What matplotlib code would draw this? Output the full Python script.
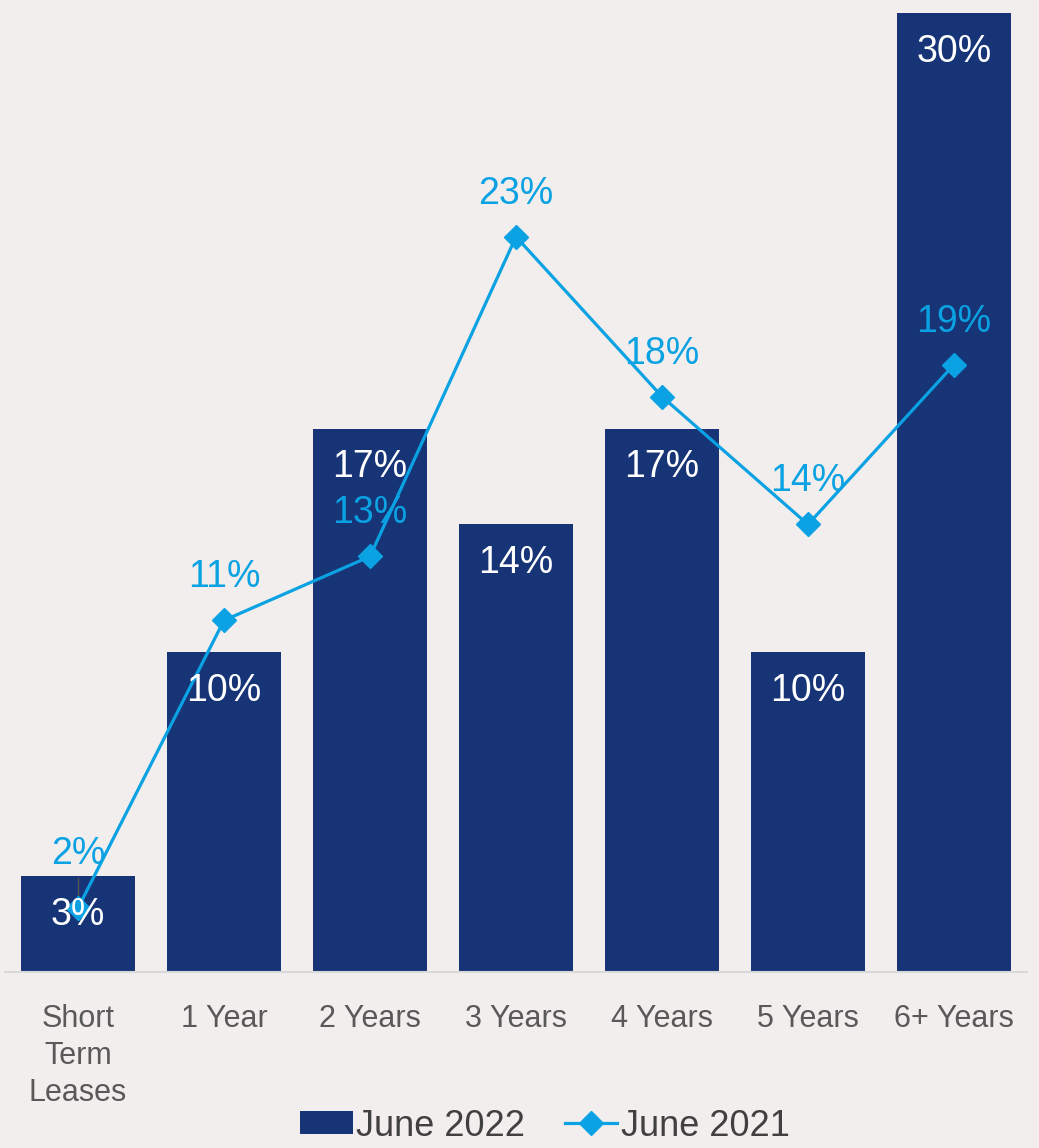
import matplotlib.pyplot as plt

categories = ['Short\nTerm\nLeases', '1 Year', '2 Years', '3 Years', '4 Years', '5 Years', '6+ Years']
june_2022 = [3, 10, 17, 14, 17, 10, 30]
june_2021 = [2, 11, 13, 23, 18, 14, 19]

bg = '#f2eeed'
navy = '#163476'
blue = '#0ba2e3'

plt.rcParams['font.family'] = ['Liberation Sans', 'DejaVu Sans']

fig = plt.figure(figsize=(10.39, 11.48), dpi=100, facecolor=bg)
ax = fig.add_axes([5 / 1039, 176 / 1148, 1022 / 1039, 959 / 1148])
ax.set_facecolor(bg)

x = range(len(categories))
ax.bar(x, june_2022, width=0.78, color=navy, label='June 2022', zorder=2)
ax.plot(x, june_2021, color=blue, lw=2.3, marker='D', markersize=12,
        label='June 2021', zorder=3)

for i, v in enumerate(june_2022):
    ax.annotate(f'{v}%', (i, v), xytext=(0, -28), textcoords='offset points',
                ha='center', va='center', color='white', fontsize=27, zorder=4)

for i, v in enumerate(june_2021):
    dy = 39 if i == 0 else 31
    ax.annotate(f'{v}%', (i, v), xytext=(0, dy), textcoords='offset points',
                ha='center', va='center', color=blue, fontsize=27, zorder=4)

# leader line for the moved first label
ax.plot([0, 0], [june_2021[0] + 0.1, june_2021[0] + 0.95], color='#555555', lw=1, zorder=2)

ax.set_xlim(-0.5, len(categories) - 0.5)
ax.set_ylim(0, 30)
ax.set_xticks(list(x))
ax.set_xticklabels(categories, fontsize=22, color='#595959', linespacing=1.3)
ax.tick_params(axis='x', length=0, pad=23)
ax.set_yticks([])
for s in ['top', 'right', 'left']:
    ax.spines[s].set_visible(False)
ax.spines['bottom'].set_color('#d9d9d9')
ax.spines['bottom'].set_linewidth(1.5)

handles, labels = ax.get_legend_handles_labels()
order = [labels.index('June 2022'), labels.index('June 2021')]
fig.legend([handles[i] for i in order], [labels[i] for i in order],
           loc='center', bbox_to_anchor=(545 / 1039, 22 / 1148), ncol=2,
           frameon=False, fontsize=26, handlelength=1.45, handleheight=0.6,
           handletextpad=0.1, columnspacing=1.1, labelcolor='#404040',
           borderpad=0.1)

fig.savefig('out.png', dpi=100, facecolor=bg)
